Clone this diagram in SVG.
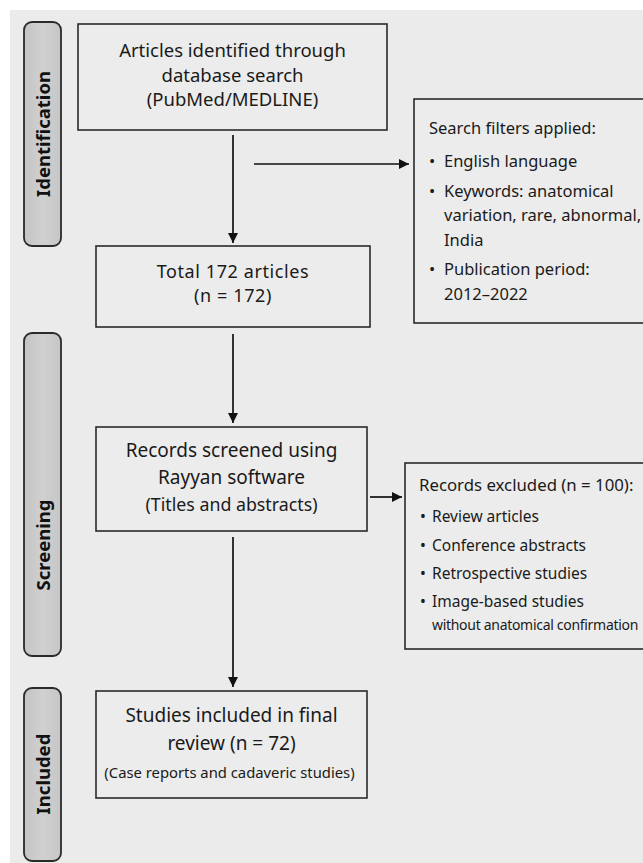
<svg xmlns="http://www.w3.org/2000/svg" width="643" height="863" viewBox="0 0 643 863">
<defs>
<linearGradient id="pill" x1="0" y1="0" x2="1" y2="0">
<stop offset="0" stop-color="#c4c4c4"/>
<stop offset="0.5" stop-color="#d0d0d0"/>
<stop offset="1" stop-color="#c6c6c6"/>
</linearGradient>
<marker id="ah" viewBox="0 0 10 10" refX="10" refY="5" markerWidth="10" markerHeight="10" markerUnits="userSpaceOnUse" orient="auto">
<path d="M0,0 L10,5 L0,10 Z" fill="#111"/>
</marker>
<style>
.bg{fill:#ebebeb}
.box{fill:#ececec;stroke:#2a2a2a;stroke-width:1.6}
.lab{fill:url(#pill);stroke:#2a2a2a;stroke-width:1.8}
.t{font-family:"Noto Sans","Open Sans",sans-serif;fill:#1a1a1a}
.c{text-anchor:middle;font-size:19px}
.l{font-size:16.5px}
.v{font-family:"Noto Sans","Open Sans",sans-serif;font-weight:bold;font-size:18.5px;fill:#111;text-anchor:middle}
.ln{stroke:#111;stroke-width:1.7;fill:none}
</style>
</defs>
<rect width="643" height="863" fill="#ffffff"/>
<rect class="bg" x="10" y="10" width="633" height="853"/>

<g id="phase-identification">
<rect class="lab" x="24" y="22" width="37" height="224" rx="8"/>
<text class="v" transform="translate(50,134) rotate(-90)">Identification</text>
</g>
<g id="phase-screening">
<rect class="lab" x="24" y="333" width="37" height="323" rx="8"/>
<text class="v" transform="translate(50,545) rotate(-90)">Screening</text>
</g>
<g id="phase-included">
<rect class="lab" x="24" y="688" width="37" height="173" rx="8"/>
<text class="v" transform="translate(50,774) rotate(-90)">Included</text>
</g>

<g id="node-identified">
<rect class="box" x="78" y="24" width="309" height="106"/>
<text class="t c" x="232.5" y="57" style="font-size:18.5px">Articles identified through</text>
<text class="t c" x="232.5" y="82" style="font-size:18.5px">database search</text>
<text class="t c" x="232.5" y="106" style="font-size:18.5px">(PubMed/MEDLINE)</text>
</g>

<g id="node-filters">
<rect class="box" x="414" y="99" width="240" height="224"/>
<text class="t l" x="429" y="134">Search filters applied:</text>
<text class="t l" x="429" y="167">•</text><text class="t l" x="444" y="167">English language</text>
<text class="t l" x="429" y="197">•</text><text class="t l" x="444" y="197">Keywords: anatomical</text>
<text class="t l" x="444" y="221">variation, rare, abnormal,</text>
<text class="t l" x="444" y="246">India</text>
<text class="t l" x="429" y="275">•</text><text class="t l" x="444" y="275">Publication period:</text>
<text class="t l" x="444" y="300">2012–2022</text>
</g>

<g id="node-total">
<rect class="box" x="96" y="246" width="274" height="81"/>
<text class="t c" x="233" y="277.5" style="font-size:18px;letter-spacing:0.6px">Total 172 articles</text>
<text class="t c" x="233" y="302" style="font-size:18px;letter-spacing:0.6px">(n = 172)</text>
</g>

<g id="node-screened">
<rect class="box" x="96" y="427" width="271" height="104"/>
<text class="t c" x="231.5" y="457">Records screened using</text>
<text class="t c" x="231.5" y="484">Rayyan software</text>
<text class="t c" x="231.5" y="511" style="font-size:17.8px">(Titles and abstracts)</text>
</g>

<g id="node-excluded">
<rect class="box" x="405" y="463" width="250" height="186"/>
<text class="t l" x="419" y="491" style="font-size:16.8px">Records excluded (n = 100):</text>
<text class="t l" x="420" y="522" style="font-size:15.5px">•</text><text class="t l" x="432" y="522" style="font-size:15.5px">Review articles</text>
<text class="t l" x="420" y="551" style="font-size:15.5px">•</text><text class="t l" x="432" y="551" style="font-size:15.5px">Conference abstracts</text>
<text class="t l" x="420" y="579" style="font-size:15.5px">•</text><text class="t l" x="432" y="579" style="font-size:15.5px">Retrospective studies</text>
<text class="t l" x="420" y="607" style="font-size:15.5px">•</text><text class="t l" x="432" y="607" style="font-size:15.5px">Image-based studies</text>
<text class="t" x="432" y="630" style="font-size:14px;letter-spacing:-0.3px">without anatomical confirmation</text>
</g>

<g id="node-included">
<rect class="box" x="96" y="691" width="271" height="107"/>
<text class="t c" x="231.5" y="722">Studies included in final</text>
<text class="t c" x="231.5" y="750">review (n = 72)</text>
<text class="t" x="229.5" y="778" style="font-size:14.8px;text-anchor:middle">(Case reports and cadaveric studies)</text>
</g>

<g id="connectors">
<line class="ln" x1="233" y1="135" x2="233" y2="243" marker-end="url(#ah)"/>
<line class="ln" x1="254" y1="164" x2="409" y2="164" marker-end="url(#ah)"/>
<line class="ln" x1="233" y1="334" x2="233" y2="423" marker-end="url(#ah)"/>
<line class="ln" x1="370" y1="497" x2="402" y2="497" marker-end="url(#ah)"/>
<line class="ln" x1="233" y1="537" x2="233" y2="687" marker-end="url(#ah)"/>
</g>
</svg>
